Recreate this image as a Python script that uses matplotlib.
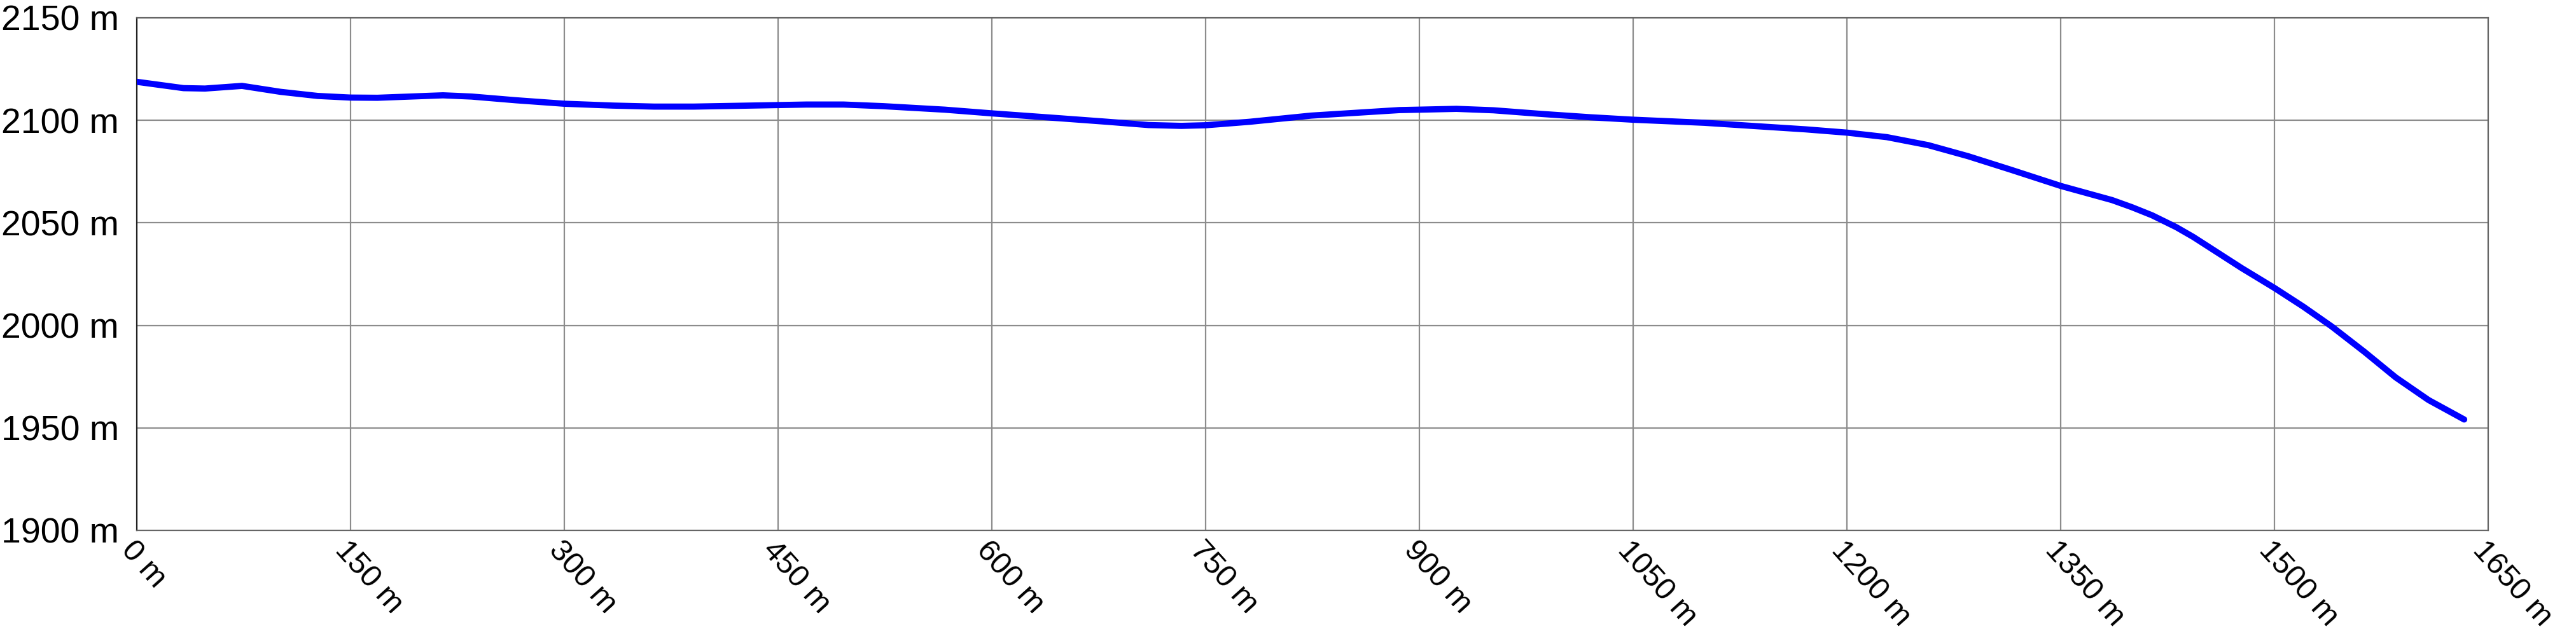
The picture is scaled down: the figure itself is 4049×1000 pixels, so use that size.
import numpy as np
import matplotlib.pyplot as plt

# Perfil de elevação (distância em m, altitude em m)
dist = [0, 33, 48, 74, 101, 127, 150, 169, 192, 215, 235, 266, 300, 334,
        363, 391, 439, 470, 496, 524, 567, 600, 638, 681, 710, 733, 750,
        781, 824, 886, 900, 926, 952, 986, 1020, 1050, 1100, 1142, 1171,
        1200, 1228, 1257, 1285, 1315, 1350, 1386, 1400, 1414, 1431,
        1443, 1460, 1477, 1500, 1520, 1540, 1563, 1585, 1608, 1633]
alt = [2118.8, 2115.7, 2115.5, 2116.8, 2113.9, 2111.9, 2111.1, 2111.0,
       2111.6, 2112.2, 2111.6, 2109.8, 2108.1, 2107.2, 2106.7, 2106.7,
       2107.3, 2107.7, 2107.7, 2106.9, 2105.2, 2103.4, 2101.5, 2099.3,
       2097.7, 2097.3, 2097.6, 2099.3, 2102.3, 2105.0, 2105.2, 2105.6,
       2104.9, 2103.1, 2101.5, 2100.3, 2098.8, 2096.9, 2095.6, 2094.0,
       2091.8, 2087.9, 2082.5, 2075.9, 2068.0, 2061.1, 2057.6,
       2053.7, 2047.9, 2043.1, 2035.5, 2027.9, 2018.2, 2009.2, 1999.5,
       1987.1, 1974.6, 1963.6, 1954.1]

xticks = np.arange(0, 1651, 150)
yticks = np.arange(1900, 2151, 50)

plt.rcParams['font.family'] = ['Liberation Sans', 'DejaVu Sans']

fig = plt.figure(figsize=(40.49, 10), dpi=100)
ax = fig.add_axes([0.053, 0.166, 0.913, 0.806])

ax.plot(dist, alt, color='#0000ff', lw=7, solid_capstyle='round',
        solid_joinstyle='round', zorder=3)

ax.set_xlim(0, 1650)
ax.set_ylim(1900, 2150)
ax.set_xticks(xticks)
ax.set_yticks(yticks)
ax.set_xticklabels([f'{v} m' for v in xticks], rotation=-48, ha='left',
                   va='top', rotation_mode='anchor', fontsize=35)
ax.set_yticklabels([f'{v} m' for v in yticks], fontsize=40)
ax.tick_params(axis='both', length=0)
ax.tick_params(axis='y', pad=20)
ax.tick_params(axis='x', pad=6)

ax.grid(True, color='#8c8c8c', lw=1.6)
for s in ax.spines.values():
    s.set_color('#666666')
    s.set_linewidth(1.6)
ax.spines['left'].set_color('#222222')

plt.savefig('out.png', dpi=100)
